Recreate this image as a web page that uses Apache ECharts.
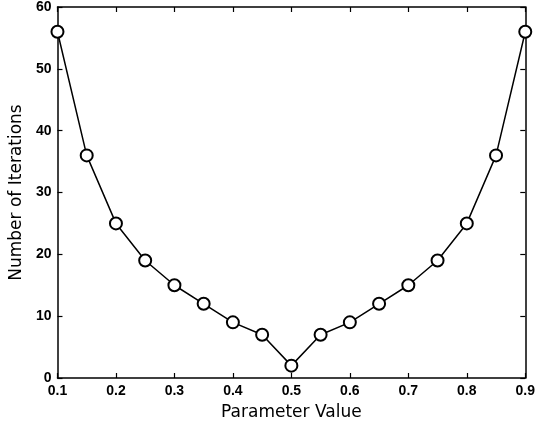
<!DOCTYPE html>
<html>
<head>
<meta charset="utf-8">
<script src="https://cdn.jsdelivr.net/npm/echarts@6/dist/echarts.min.js"></script>
<style>
html,body{margin:0;padding:0;background:#fff;}
#c{width:538px;height:427px;}
</style>
</head>
<body>
<div id="c"></div>
<script>
const paramValues = [0.1, 0.15, 0.2, 0.25, 0.3, 0.35, 0.4, 0.45, 0.5, 0.55, 0.6, 0.65, 0.7, 0.75, 0.8, 0.85, 0.9];
const iterations = [56, 36, 25, 19, 15, 12, 9, 7, 2, 7, 9, 12, 15, 19, 25, 36, 56];
const xTicks = [0.1, 0.2, 0.3, 0.4, 0.5, 0.6, 0.7, 0.8, 0.9];
const yTicks = [0, 10, 20, 30, 40, 50, 60];

const tickFont = 'Liberation Sans, Arial, Helvetica, sans-serif';
const titleFont = 'DejaVu Sans, sans-serif';
const chart = echarts.init(document.getElementById('c'), null, {renderer: 'canvas'});
const axisCommon = {
  axisLine: {show: true, onZero: false, lineStyle: {color: '#000', width: 1.5}},
  axisTick: {show: true, inside: true, length: 5, lineStyle: {color: '#000', width: 1.2}},
  splitLine: {show: false}
};
chart.setOption({
  animation: false,
  backgroundColor: '#fff',
  grid: {left: 57, right: 11, top: 7, bottom: 49, containLabel: false},
  xAxis: [
    Object.assign({
      type: 'value', min: xTicks[0], max: xTicks[xTicks.length - 1], interval: 0.1,
      name: 'Parameter Value', nameLocation: 'middle', nameGap: 26,
      nameTextStyle: {fontFamily: titleFont, fontSize: 17, color: '#000'},
      axisLabel: {fontFamily: tickFont, fontSize: 14, fontWeight: 'bold', color: '#000', margin: 6,
        formatter: v => (Math.round(v * 10) / 10).toFixed(1)}
    }, axisCommon),
    Object.assign({
      type: 'value', position: 'top', min: xTicks[0], max: xTicks[xTicks.length - 1], interval: 0.1,
      axisLabel: {show: false}
    }, axisCommon)
  ],
  yAxis: [
    Object.assign({
      type: 'value', min: yTicks[0], max: yTicks[yTicks.length - 1], interval: 10,
      name: 'Number of Iterations', nameLocation: 'middle', nameGap: 27, nameRotate: 90,
      nameTextStyle: {fontFamily: titleFont, fontSize: 17, color: '#000'},
      axisLabel: {fontFamily: tickFont, fontSize: 14, fontWeight: 'bold', color: '#000', margin: 6}
    }, axisCommon),
    Object.assign({
      type: 'value', position: 'right', min: yTicks[0], max: yTicks[yTicks.length - 1], interval: 10,
      axisLabel: {show: false}
    }, axisCommon)
  ],
  series: [{
    type: 'line',
    data: paramValues.map((x, i) => [x, iterations[i]]),
    symbol: 'emptyCircle',
    symbolSize: 12,
    lineStyle: {color: '#000', width: 1.5},
    itemStyle: {color: '#000', borderWidth: 1.3},
    z: 3
  }]
});
</script>
</body>
</html>
